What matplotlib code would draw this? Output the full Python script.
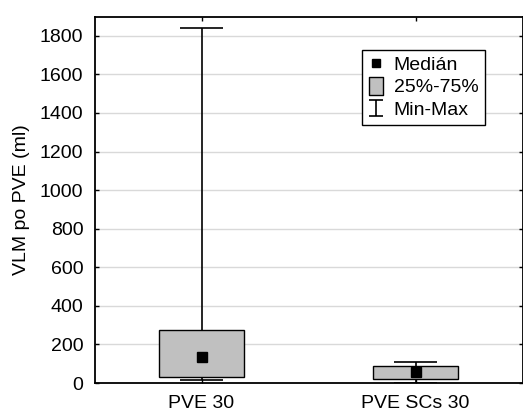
import matplotlib
matplotlib.use("Agg")
import matplotlib.pyplot as plt
from matplotlib.path import Path
from matplotlib.lines import Line2D

plt.rcParams['font.family'] = ['Liberation Sans', 'DejaVu Sans']

categories = ["PVE 30", "PVE SCs 30"]
medians = [136, 59]
q1 = [30, 21]
q3 = [275, 90]
mins = [14, 2]
maxs = [1840, 107]
yticks = [0, 200, 400, 600, 800, 1000, 1200, 1400, 1600, 1800]

fig = plt.figure(figsize=(5.23, 4.12), dpi=100)
ax = fig.add_axes([94.5/523, (412-383)/412, 428/523, 366.5/412])

pos = [1, 2]
box_w = 0.4
cap_w = 0.2
fs = 14

for y in yticks[1:]:
    ax.axhline(y, color='#d9d9d9', lw=1.0, zorder=0)

ax.vlines(pos, q3, maxs, color='black', lw=1.2, zorder=1)
ax.vlines(pos, mins, q1, color='black', lw=1.2, zorder=1)
for p, lo, hi in zip(pos, mins, maxs):
    ax.hlines([lo, hi], p - cap_w/2, p + cap_w/2, color='black', lw=1.2, zorder=1)
ax.bar(pos, [b - a for a, b in zip(q1, q3)], bottom=q1, width=box_w,
       color='#c0c0c0', edgecolor='black', linewidth=1.0, zorder=2)
ax.plot(pos, medians, ls='none', marker='s', ms=7, color='black', zorder=3)

ax.set_xlim(0.5, 2.5)
ax.set_ylim(0, 1900)
ax.set_xticks(pos)
ax.set_xticklabels(categories, fontsize=fs)
ax.set_yticks(yticks)
ax.set_yticklabels([str(v) for v in yticks], fontsize=fs)
ax.tick_params(direction='in', length=3, width=1, top=True, right=True)
ax.tick_params(axis='y', pad=8)
ax.tick_params(axis='x', pad=9)
for s in ax.spines.values():
    s.set_linewidth(1.3)
ax.set_ylabel("VLM po PVE (ml)", fontsize=fs, labelpad=7)

ibeam = Path([(-0.8, 1), (0.8, 1), (0, 1), (0, -1), (-0.8, -1), (0.8, -1)],
             [Path.MOVETO, Path.LINETO, Path.MOVETO, Path.LINETO, Path.MOVETO, Path.LINETO])
rect = Path([(-0.37, -0.5), (0.37, -0.5), (0.37, 0.5), (-0.37, 0.5), (-0.37, -0.5)],
            [Path.MOVETO, Path.LINETO, Path.LINETO, Path.LINETO, Path.CLOSEPOLY])
handles = [
    Line2D([], [], ls='none', marker='s', ms=6, color='black'),
    Line2D([], [], ls='none', marker=rect, ms=13, mfc='#c0c0c0', mec='black', mew=1.0),
    Line2D([], [], ls='none', marker=ibeam, ms=12, color='black', mfc='none', mew=1.2),
]
leg = ax.legend(handles, ["Medián", "25%-75%", "Min-Max"], loc='upper left',
                bbox_to_anchor=(0.625, 0.909), borderaxespad=0, fontsize=fs,
                fancybox=False, edgecolor='black', framealpha=1,
                handlelength=0.75, handletextpad=0.55,
                labelspacing=0.25, borderpad=0.33)
leg.get_frame().set_linewidth(1.0)

fig.savefig("out.png", dpi=100)
